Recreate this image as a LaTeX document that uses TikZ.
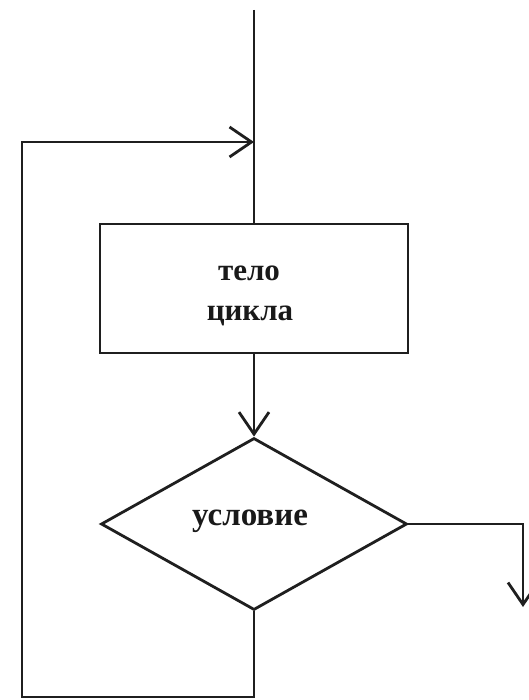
\documentclass[tikz,border=0pt]{standalone}
\usepackage{fontspec}
\setmainfont{Liberation Serif}
\usetikzlibrary{arrows.meta,shapes.geometric}
\begin{document}
\begin{tikzpicture}[x=1pt,y=-1pt,
  line/.style={line width=2.8pt,draw=black!88},
  arr/.style={line,-{Straight Barb[length=22pt,width=30pt,line width=2.8pt]}},
  lbl/.style={font=\bfseries\fontsize{31}{41}\selectfont,align=center,text=black!90,inner sep=0pt}]
\useasboundingbox (0,0) rectangle (529,700);
\coordinate (top) at (254,10);
\node[line,rectangle,minimum width=308pt,minimum height=129pt,inner sep=0pt] (body) at (254,288.5) {};
\node[lbl,anchor=base] (t1) at (249,280) {тело};
\node[lbl,anchor=base] (t2) at (250,320) {цикла};
\node[line,diamond,minimum width=306pt,minimum height=172pt,inner sep=0pt,aspect=1.78] (cond) at (254,524) {};
\node[lbl,anchor=base,font=\bfseries\fontsize{33}{41}\selectfont] (t3) at (250,525) {условие};
\coordinate (ex) at (523,524);
\coordinate (exend) at (523,607);
\coordinate (b2) at (22,697);
\coordinate (b3) at (22,142);
\draw[line] (top) -- (body.north);
\draw[arr] (body.south) -- (cond.north);
\draw[arr] (cond.east) -- (ex) -- (exend);
\draw[arr] (cond.south) -- (cond.south |- b2) -- (b2) -- (b3) -- (top |- b3);
\end{tikzpicture}
\end{document}
